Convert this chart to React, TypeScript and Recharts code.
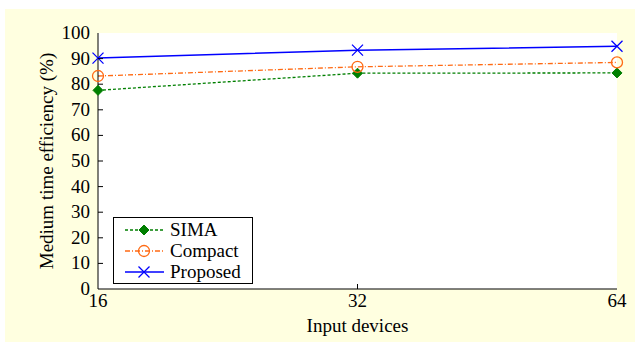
// Medium time efficiency vs. input devices — three schemes
import { CartesianGrid, Label, Line, LineChart, XAxis, YAxis } from 'recharts';

const devices = ['16', '32', '64'];
const sima = [77.6, 84.3, 84.4];
const compact = [83.2, 86.8, 88.5];
const proposed = [90.2, 93.3, 94.8];
const yTicks = [0, 10, 20, 30, 40, 50, 60, 70, 80, 90, 100];

const data = devices.map((d, i) => ({
  devices: d,
  sima: sima[i],
  compact: compact[i],
  proposed: proposed[i],
}));

const FONT = "'Times New Roman', Times, 'Liberation Serif', Tinos, 'Noto Serif', FreeSerif, 'DejaVu Serif', serif";
const GREEN = '#007f00';
const ORANGE = '#ff6a13';
const BLUE = '#0000ff';

function Diamond({ cx, cy, color }: { cx: number; cy: number; color: string }) {
  const r = 5;
  return (
    <path
      d={`M${cx},${cy - r}L${cx + r},${cy}L${cx},${cy + r}L${cx - r},${cy}Z`}
      fill={color}
      stroke={color}
    />
  );
}

function Ring({ cx, cy, color }: { cx: number; cy: number; color: string }) {
  return <circle cx={cx} cy={cy} r={5.5} fill="none" stroke={color} strokeWidth={1.3} />;
}

function Cross({ cx, cy, color }: { cx: number; cy: number; color: string }) {
  const r = 5.5;
  return (
    <path
      d={`M${cx - r},${cy - r}L${cx + r},${cy + r}M${cx - r},${cy + r}L${cx + r},${cy - r}`}
      stroke={color}
      strokeWidth={1.3}
      fill="none"
    />
  );
}

function YTick(props: any) {
  const { x, y, payload } = props;
  const axisX = x + 8;
  const edge = payload.value === 0 || payload.value === 100;
  return (
    <g>
      {!edge && <line x1={axisX} x2={axisX + 5} y1={y} y2={y} stroke="#000" />}
      <text x={x} y={y} dy={6} textAnchor="end" fontFamily={FONT} fontSize={19} fill="#000">
        {payload.value}
      </text>
    </g>
  );
}

function XTick(props: any) {
  const { x, y, payload, index } = props;
  const axisY = y - 8;
  return (
    <g>
      {index === 1 && <line x1={x} x2={x} y1={axisY} y2={axisY - 5} stroke="#000" />}
      <text x={x} y={y} dy={10} textAnchor="middle" fontFamily={FONT} fontSize={19} fill="#000">
        {payload.value}
      </text>
    </g>
  );
}

const legendItems = [
  { name: 'SIMA', color: GREEN, dash: '3 2', marker: Diamond },
  { name: 'Compact', color: ORANGE, dash: '5 2 1 2', marker: Ring },
  { name: 'Proposed', color: BLUE, dash: undefined, marker: Cross },
];

function ChartLegend() {
  return (
    <svg width={140} height={67} style={{ display: 'block' }}>
      <rect x={0.5} y={0.5} width={139} height={66} fill="#fff" stroke="#000" />
      {legendItems.map((item, i) => {
        const y = 13 + i * 21;
        const M = item.marker;
        return (
          <g key={item.name}>
            <line
              x1={12}
              x2={51}
              y1={y}
              y2={y}
              stroke={item.color}
              strokeWidth={1.3}
              strokeDasharray={item.dash}
            />
            <M cx={31} cy={y} color={item.color} />
            <text x={57} y={y} dy={6} fontFamily={FONT} fontSize={19} fill="#000">
              {item.name}
            </text>
          </g>
        );
      })}
    </svg>
  );
}

export default function App() {
  return (
    <div
      style={{
        position: 'absolute',
        left: 5,
        top: 9,
        width: 630,
        height: 333,
        background: '#ffffe0',
        fontFamily: FONT,
      }}
    >
      <LineChart
        width={630}
        height={333}
        data={data}
        margin={{ top: 24, right: 18, bottom: 10, left: 43 }}
      >
        <CartesianGrid fill="#fff" horizontal={false} vertical={false} />
        <XAxis
          dataKey="devices"
          height={43}
          stroke="#000"
          tickLine={false}
          tick={<XTick />}
        >
          <Label
            value="Input devices"
            position="insideBottom"
            offset={0}
            fontFamily={FONT}
            fontSize={19}
            fill="#000"
          />
        </XAxis>
        <XAxis
          xAxisId="top"
          dataKey="devices"
          orientation="top"
          height={0}
          tick={false}
          tickLine={false}
          stroke="#808080"
        />
        <YAxis
          domain={[0, 100]}
          ticks={yTicks}
          width={50}
          stroke="#000"
          tickLine={false}
          tick={<YTick />}
          interval={0}
        >
          <Label
            value="Medium time efficiency (%)"
            angle={-90}
            position="insideLeft"
            offset={-2}
            fontFamily={FONT}
            fontSize={19}
            fill="#000"
            style={{ textAnchor: 'middle' }}
          />
        </YAxis>
        <YAxis
          yAxisId="right"
          orientation="right"
          width={0}
          domain={[0, 100]}
          tick={false}
          tickLine={false}
          stroke="#808080"
        />
        <Line
          dataKey="sima"
          name="SIMA"
          stroke={GREEN}
          strokeWidth={1.3}
          strokeDasharray="3 2"
          isAnimationActive={false}
          dot={(p: any) => <Diamond key={p.index} cx={p.cx} cy={p.cy} color={GREEN} />}
        />
        <Line
          dataKey="compact"
          name="Compact"
          stroke={ORANGE}
          strokeWidth={1.3}
          strokeDasharray="5 2 1 2"
          isAnimationActive={false}
          dot={(p: any) => <Ring key={p.index} cx={p.cx} cy={p.cy} color={ORANGE} />}
        />
        <Line
          dataKey="proposed"
          name="Proposed"
          stroke={BLUE}
          strokeWidth={1.5}
          isAnimationActive={false}
          dot={(p: any) => <Cross key={p.index} cx={p.cx} cy={p.cy} color={BLUE} />}
        />
      </LineChart>
      <div style={{ position: 'absolute', left: 108, top: 208 }}>
        <ChartLegend />
      </div>
    </div>
  );
}
